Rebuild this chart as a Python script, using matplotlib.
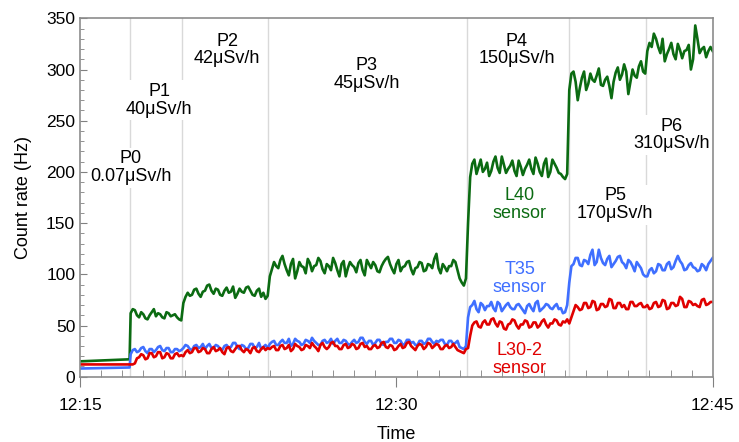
import numpy as np
import matplotlib.pyplot as plt
from matplotlib.ticker import MultipleLocator, FixedLocator, FixedFormatter

plt.rcParams['font.family'] = ['Liberation Sans', 'DejaVu Sans']

# minutes after 12:15
phase_edges = [2.4, 4.9, 9.0, 18.4, 23.2, 26.9, 30.0]
phase_lines = [2.36, 4.85, 8.92, 18.37, 23.17, 26.85]
start_times = [0.0, 2.35]

# flat part before the source was placed
l40_start = [15, 17]
t35_start = [8, 9]
l302_start = [12, 12]

# count rate (Hz), one list per phase P1..P6
l40_phases = [
    [62, 66, 65, 60, 58, 63, 61, 57, 56, 60, 63, 66, 59, 62, 61, 58, 57, 63, 62, 59,
     60, 61, 58, 56, 55],
    [72, 78, 82, 79, 80, 85, 86, 81, 78, 83, 84, 89, 90, 84, 81, 86, 85, 80, 79, 84,
     87, 82, 83, 88, 77, 81, 86, 83, 82, 87, 88, 84, 80, 79, 84, 86, 78, 82, 76, 79],
    [98, 105, 112, 108, 106, 114, 118, 110, 104, 99, 110, 115, 96, 103, 112, 108,
     107, 101, 115, 111, 103, 108, 109, 116, 113, 105, 101, 110, 108, 104, 116, 111,
     104, 98, 110, 113, 98, 106, 112, 109, 107, 102, 111, 114, 104, 99, 114, 110,
     106, 112, 109, 103, 102, 108, 112, 115, 117, 110, 105, 101, 110, 114, 103, 107,
     108, 112, 113, 105, 100, 106, 107, 112, 111, 103, 104, 110, 109, 106, 115, 120,
     106, 101, 110, 107, 103, 108, 108, 114, 112, 104, 96, 92, 89, 96],
    [150, 195, 208, 212, 198, 205, 212, 200, 203, 209, 196, 201, 210, 215, 204, 199,
     215, 207, 199, 203, 206, 211, 201, 196, 211, 205, 197, 203, 207, 212, 203, 198,
     214, 208, 200, 196, 208, 213, 195, 200, 212, 208, 204, 199, 198, 195, 193, 198],
    [280, 296, 298, 288, 270, 282, 292, 298, 280, 286, 296, 290, 288, 294, 301, 285,
     284, 290, 293, 284, 272, 288, 297, 302, 290, 295, 305, 298, 276, 288, 300, 294,
     292, 303, 308, 298, 296],
    [318, 326, 322, 335, 330, 322, 316, 330, 308, 315, 320, 326, 315, 310, 325, 319,
     311, 318, 319, 324, 300, 310, 343, 330, 316, 320, 322, 312, 318, 322, 318],
]
t35_phases = [
    [22, 26, 27, 24, 25, 28, 29, 25, 23, 27, 27, 24, 26, 29, 30, 26, 25, 28, 28, 24,
     24, 27, 27, 25, 26],
    [28, 31, 30, 27, 26, 30, 31, 28, 29, 32, 27, 30, 32, 28, 28, 31, 30, 27, 26, 30,
     31, 28, 29, 33, 33, 29, 27, 31, 30, 27, 28, 32, 32, 28, 29, 33, 27, 29, 31, 28],
    [32, 34, 35, 31, 31, 34, 36, 33, 33, 37, 30, 32, 37, 35, 34, 31, 32, 36, 35, 33,
     38, 35, 33, 31, 31, 35, 36, 33, 34, 37, 32, 35, 37, 33, 33, 36, 35, 32, 31, 34,
     36, 33, 34, 38, 38, 34, 32, 35, 35, 31, 33, 36, 36, 32, 31, 34, 34, 37, 37, 33,
     33, 36, 35, 31, 32, 36, 36, 33, 34, 31, 31, 35, 35, 32, 33, 37, 37, 34, 32, 35,
     34, 36, 36, 32, 31, 35, 35, 32, 33, 35, 29, 28, 27, 30],
    [58, 68, 70, 74, 66, 63, 72, 70, 65, 69, 69, 73, 67, 64, 73, 71, 64, 67, 70, 72,
     68, 66, 66, 70, 71, 68, 65, 62, 69, 71, 67, 64, 72, 74, 64, 66, 68, 71, 70, 67,
     66, 69, 71, 66, 67, 62, 63, 70],
    [92, 108, 110, 116, 116, 109, 108, 114, 113, 110, 119, 124, 109, 112, 124, 116,
     111, 109, 115, 118, 107, 110, 113, 117, 118, 112, 110, 106, 114, 112, 108, 103,
     112, 109, 106, 100, 98],
    [98, 104, 106, 101, 103, 110, 109, 104, 104, 110, 112, 105, 107, 113, 118, 113,
     110, 104, 105, 109, 111, 107, 106, 103, 104, 110, 108, 104, 110, 113, 116],
]
l302_phases = [
    [12, 12, 13, 18, 19, 22, 21, 17, 18, 23, 23, 19, 20, 24, 24, 18, 19, 23, 22, 18,
     18, 22, 23, 20, 21],
    [20, 24, 26, 23, 24, 28, 28, 24, 25, 28, 27, 23, 23, 27, 29, 25, 26, 28, 24, 22,
     28, 29, 25, 24, 27, 30, 30, 26, 24, 27, 26, 23, 28, 29, 25, 24, 27, 29, 26, 28],
    [27, 29, 30, 26, 26, 30, 31, 27, 28, 31, 25, 27, 32, 30, 29, 26, 27, 31, 30, 28,
     33, 30, 28, 25, 31, 33, 29, 27, 29, 33, 34, 30, 30, 27, 27, 31, 32, 28, 29, 32,
     31, 27, 28, 32, 33, 29, 30, 27, 27, 30, 31, 28, 29, 33, 34, 29, 28, 31, 30, 26,
     27, 30, 32, 28, 29, 33, 34, 30, 28, 26, 30, 32, 31, 27, 29, 33, 32, 28, 30, 32,
     31, 27, 27, 30, 31, 28, 29, 32, 29, 26, 25, 24, 23, 27],
    [28, 40, 50, 53, 54, 49, 48, 53, 55, 51, 51, 56, 57, 52, 49, 54, 53, 47, 46, 51,
     52, 56, 55, 50, 47, 51, 51, 55, 54, 48, 49, 53, 53, 48, 50, 54, 56, 51, 48, 52,
     52, 56, 55, 51, 50, 54, 53, 56],
    [52, 58, 64, 70, 68, 65, 66, 72, 72, 67, 68, 74, 73, 65, 66, 71, 71, 68, 69, 76,
     75, 67, 67, 72, 72, 68, 70, 66, 66, 73, 73, 69, 69, 71, 72, 68, 68],
    [70, 66, 67, 72, 73, 68, 69, 75, 74, 66, 67, 72, 72, 69, 70, 78, 76, 68, 68, 74,
     73, 70, 71, 69, 68, 75, 76, 70, 71, 73, 73],
]

phase_labels = ["P0\n0.07μSv/h", "P1\n40μSv/h", "P2\n42μSv/h", "P3\n45μSv/h",
                "P4\n150μSv/h", "P5\n170μSv/h", "P6\n310μSv/h"]
phase_label_pos = [(2.4, 204), (3.75, 270), (6.97, 319), (13.6, 295),
                   (20.7, 319), (25.37, 168), (28.07, 236)]

sensor_labels = ["L40\nsensor", "T35\nsensor", "L30-2\nsensor"]
sensor_colors = ['#0b6b12', '#3f6fff', '#e00000']
sensor_label_pos = [(20.86, 168), (20.86, 96), (20.86, 17)]

x_ticks = [0, 15, 30]
x_tick_labels = ["12:15", "12:30", "12:45"]


def build(start, phases):
    t = list(start_times)
    v = list(start)
    for k, vals in enumerate(phases):
        last = k == len(phases) - 1
        t.extend(np.linspace(phase_edges[k], phase_edges[k + 1], len(vals), endpoint=last))
        v.extend(vals)
    return np.array(t), np.array(v)


fig = plt.figure(figsize=(7.39, 4.42), dpi=100)
ax = fig.add_axes([0.1083, 0.1477, 0.8561, 0.8109])

for xl in phase_lines:
    ax.axvline(xl, color='#d9d9d9', lw=1, zorder=0.5)

starts = [l40_start, t35_start, l302_start]
all_phases = [l40_phases, t35_phases, l302_phases]
for start, series, col in zip(starts, all_phases, sensor_colors):
    t, v = build(start, series)
    ax.plot(t, v, color=col, lw=1.9, zorder=2)

for lab, (x, y) in zip(phase_labels, phase_label_pos):
    ax.text(x, y, lab, ha='center', va='center', fontsize=13, linespacing=1.05,
            zorder=1, bbox=dict(facecolor='white', edgecolor='none', pad=2))

for lab, (x, y), col in zip(sensor_labels, sensor_label_pos, sensor_colors):
    ax.text(x, y, lab, ha='center', va='center', fontsize=13, linespacing=1.05,
            color=col, zorder=3)

ax.set_xlim(0, 30)
ax.set_ylim(0, 350)
ax.yaxis.set_major_locator(MultipleLocator(50))
ax.yaxis.set_minor_locator(MultipleLocator(10))
ax.xaxis.set_major_locator(FixedLocator(x_ticks))
ax.xaxis.set_major_formatter(FixedFormatter(x_tick_labels))
ax.xaxis.set_minor_locator(MultipleLocator(1))

ax.tick_params(axis='y', which='both', direction='in', color='#808080', labelsize=12.5)
ax.tick_params(axis='y', which='major', length=5)
ax.tick_params(axis='y', which='minor', length=3)
ax.tick_params(axis='x', which='major', direction='out', length=7, color='#808080',
               labelsize=12.5, pad=8)
ax.tick_params(axis='x', which='minor', direction='in', length=5, color='#808080')

for s in ax.spines.values():
    s.set_color('#8c8c8c')
    s.set_linewidth(1.2)

ax.set_xlabel('Time', fontsize=13, labelpad=10)
ax.set_ylabel('Count rate (Hz)', fontsize=13, labelpad=10)

fig.savefig('out.png', dpi=100)
